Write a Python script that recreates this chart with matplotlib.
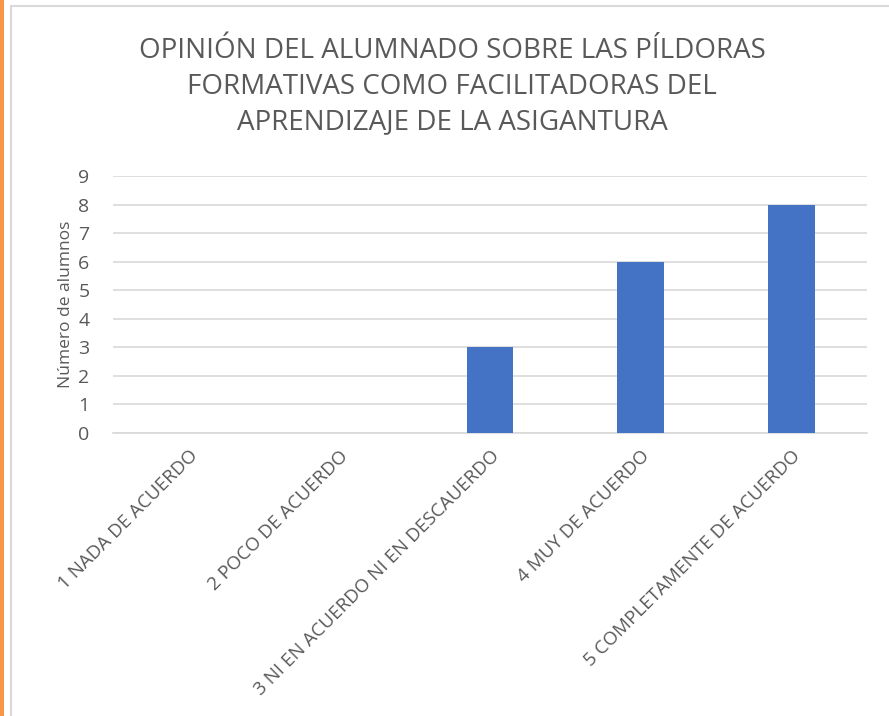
import matplotlib
matplotlib.use("Agg")
import matplotlib.pyplot as plt
from matplotlib.patches import Rectangle

categories = ["1 NADA DE ACUERDO", "2 POCO DE ACUERDO", "3 NI EN ACUERDO NI EN DESCAUERDO",
              "4 MUY DE ACUERDO", "5 COMPLETAMENTE DE ACUERDO"]
values = [0, 0, 3, 6, 8]
yticks = list(range(0, 10))
title = "OPINIÓN DEL ALUMNADO SOBRE LAS PÍLDORAS\nFORMATIVAS COMO FACILITADORAS DEL\nAPRENDIZAJE DE LA ASIGANTURA"
ylabel = "Número de alumnos"

plt.rcParams['font.family'] = ['Open Sans', 'DejaVu Sans']
W, H = 889, 716
fig = plt.figure(figsize=(W/100, H/100), dpi=100)

# orange strip and chart border
fig.add_artist(Rectangle((0, 0), 4/W, 1, transform=fig.transFigure, color="#F79646", lw=0))
fig.add_artist(Rectangle((11/W, -0.01), (W + 5)/W, (H - 5.5)/H + 0.01, transform=fig.transFigure,
                         fill=False, edgecolor="#D9D9D9", lw=1.5))

left, right = 113/W, 867/W
bottom, top = 1 - 433/H, 1 - 176/H
ax = fig.add_axes([left, bottom, right - left, top - bottom])

x = range(len(categories))
ax.bar(x, values, width=0.31, color="#4472C4", zorder=3)
ax.set_xlim(-0.5, len(categories) - 0.5)
ax.set_ylim(0, 9)
ax.set_yticks(yticks)
ax.yaxis.grid(True, color="#D9D9D9", lw=1.2, zorder=0)
for s in ["top", "right", "left"]:
    ax.spines[s].set_visible(False)
ax.spines["bottom"].set_color("#D9D9D9")
ax.spines["bottom"].set_linewidth(1.2)
ax.tick_params(axis="both", length=0, colors="#595959", labelsize=14)
ax.tick_params(axis="y", pad=17)
ax.set_xticks(list(x))
ax.set_xticklabels(categories, rotation=45, ha="right", rotation_mode="anchor", fontsize=13.5)
ax.tick_params(axis="x", pad=10)
ax.set_ylabel(ylabel, color="#595959", fontsize=12.5, labelpad=3)

fig.text(452/W, 1 - 87/H, title, ha="center", va="center", fontsize=20, color="#595959",
         linespacing=1.36)

fig.savefig("out.png", dpi=100)
